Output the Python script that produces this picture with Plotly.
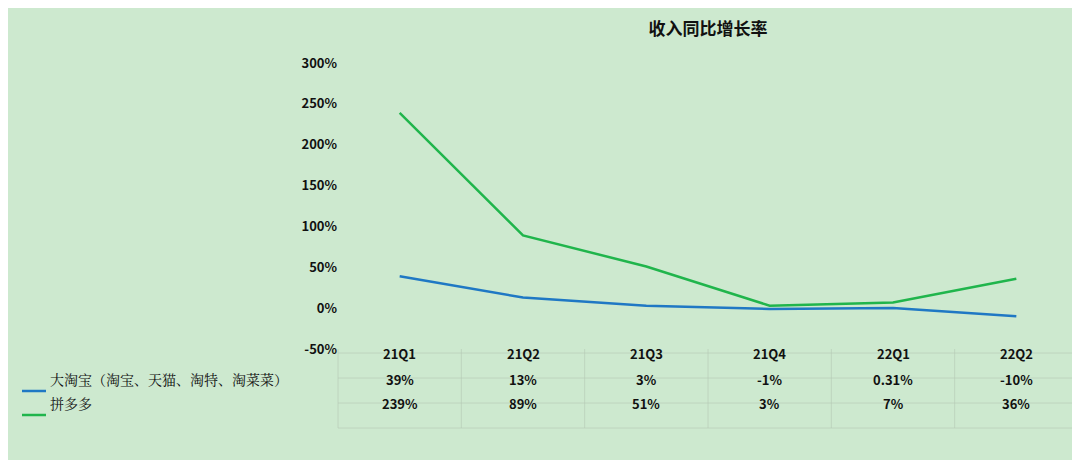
import plotly.graph_objects as go

quarters = ["21Q1", "21Q2", "21Q3", "21Q4", "22Q1", "22Q2"]
taobao = [39, 13, 3, -1, 0.31, -10]
pdd = [239, 89, 51, 3, 7, 36]
taobao_labels = ["39%", "13%", "3%", "-1%", "0.31%", "-10%"]
pdd_labels = ["239%", "89%", "51%", "3%", "7%", "36%"]
series_names = ["大淘宝（淘宝、天猫、淘特、淘菜菜）", "拼多多"]

BLUE = "#1F78C4"
GREEN = "#20B54C"
BG = "#CDE9CF"
FONT = "Noto Sans CJK SC"

W, H = 1080, 460
L, R, T, B = 330, 10, 55, 119
pw, ph = W - L - R, H - T - B


def px_x(px):
    return (px - L) / pw


def px_y(py):
    return (H - B - py) / ph


fig = go.Figure()
fig.add_trace(go.Scatter(x=list(range(6)), y=taobao, mode="lines",
                         line=dict(color=BLUE, width=2.5), name=series_names[0]))
fig.add_trace(go.Scatter(x=list(range(6)), y=pdd, mode="lines",
                         line=dict(color=GREEN, width=2.5), name=series_names[1]))

ann = []
rows = [(357, quarters), (383, taobao_labels), (407, pdd_labels)]
for py, labels in rows:
    for i, lab in enumerate(labels):
        ann.append(dict(x=i, y=px_y(py), xref="x", yref="paper", text=f"<b>{lab}</b>",
                        showarrow=False, font=dict(size=13, color="#111")))

shapes = []
for py, name, col in [(383, series_names[0], BLUE), (407, series_names[1], GREEN)]:
    ann.append(dict(x=px_x(40), y=px_y(py), xref="paper", yref="paper", text=name,
                    xanchor="left", showarrow=False, font=dict(size=14, color="#111", family="Noto Serif CJK SC, " + FONT)))
    shapes.append(dict(type="line", xref="paper", yref="paper", x0=px_x(14), x1=px_x(38),
                       y0=px_y(py), y1=px_y(py), line=dict(color=col, width=2.5)))

# faint table grid
grid = "rgba(180,200,180,0.6)"
for py in [345, 370, 395, 420]:
    shapes.append(dict(type="line", xref="paper", yref="paper", x0=px_x(330), x1=px_x(1070),
                       y0=px_y(py), y1=px_y(py), line=dict(color=grid, width=1)))
for k in range(7):
    xp = L + k * pw / 6
    shapes.append(dict(type="line", xref="paper", yref="paper", x0=px_x(xp), x1=px_x(xp),
                       y0=px_y(341), y1=px_y(420), line=dict(color=grid, width=1)))

fig.update_layout(
    width=W, height=H,
    margin=dict(l=L, r=R, t=T, b=B),
    paper_bgcolor=BG, plot_bgcolor=BG,
    font=dict(family=FONT, color="#111"),
    title=dict(text="<b>收入同比增长率</b>", x=0.5, xref="paper", y=0.955, yanchor="middle",
               font=dict(size=17)),
    showlegend=False,
    xaxis=dict(range=[-0.5, 5.5], showticklabels=False, showgrid=False, zeroline=False),
    yaxis=dict(range=[-50, 300], tickvals=[-50, 0, 50, 100, 150, 200, 250, 300],
               ticktext=[f"<b>{v}%</b>" for v in [-50, 0, 50, 100, 150, 200, 250, 300]],
               showgrid=False, zeroline=False, tickfont=dict(size=13), ticklen=0, ticks=""),
    annotations=ann, shapes=shapes,
)

fig.write_html("out.html")
